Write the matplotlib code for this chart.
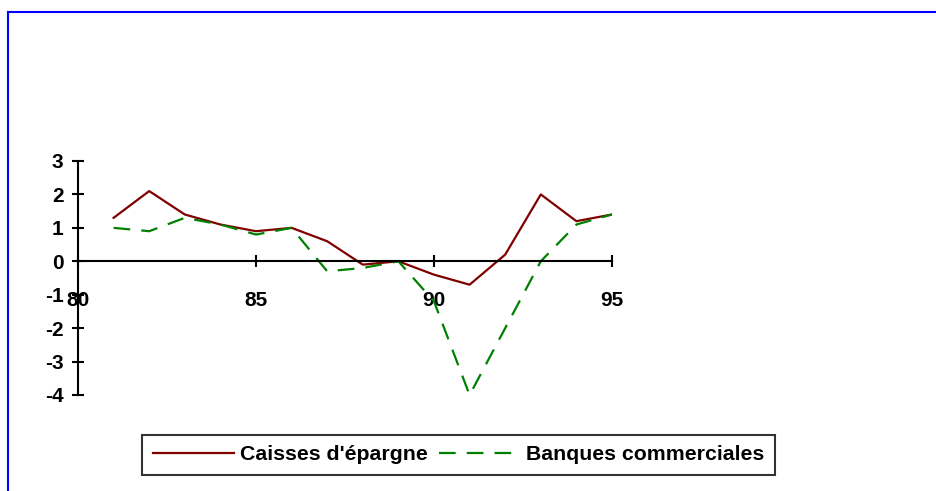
import matplotlib
matplotlib.use("Agg")
import matplotlib.pyplot as plt
from matplotlib.lines import Line2D

years = [81, 82, 83, 84, 85, 86, 87, 88, 89, 90, 91, 92, 93, 94, 95]
caisses = [1.3, 2.1, 1.4, 1.1, 0.9, 1.0, 0.6, -0.1, 0.0, -0.4, -0.7, 0.2, 2.0, 1.2, 1.4]
banques = [1.0, 0.9, 1.3, 1.1, 0.8, 1.0, -0.3, -0.2, 0.0, -1.2, -4.0, -2.0, 0.0, 1.1, 1.4]
xticks = [80, 85, 90, 95]
yticks = [3, 2, 1, 0, -1, -2, -3, -4]
labels = ["Caisses d'épargne", "Banques commerciales"]

plt.rcParams['font.family'] = ['Liberation Sans', 'DejaVu Sans']
plt.rcParams['font.weight'] = 'bold'

W, H = 937, 491
fig = plt.figure(figsize=(W / 100, H / 100), dpi=100)
ax = fig.add_axes([78 / W, 1 - 395 / H, (612 - 78) / W, (395 - 161) / H])

ax.plot(years, caisses, color='#800000', lw=1.6, label=labels[0])
ax.plot(years, banques, color='#008000', lw=1.6, dashes=(7.5, 5), label=labels[1])

ax.set_xlim(80, 95)
ax.set_ylim(-4, 3)
ax.spines['top'].set_visible(False)
ax.spines['right'].set_visible(False)
ax.spines['bottom'].set_position(('data', 0))
ax.spines['left'].set_position(('data', 80))
for s in ('bottom', 'left'):
    ax.spines[s].set_linewidth(1.5)
ax.set_xticks(xticks)
ax.set_yticks(yticks)
ax.set_yticklabels([str(v) for v in yticks])
ax.tick_params(axis='both', direction='inout', length=9, width=1.5, labelsize=15)
ax.tick_params(axis='x', pad=17)
ax.tick_params(axis='y', pad=6)
for t in ax.get_xticklabels() + ax.get_yticklabels():
    t.set_fontweight('bold')

leg = fig.legend(loc='lower left', bbox_to_anchor=(142 / W, 1 - 475 / H), ncol=2,
                 frameon=True, fancybox=False, edgecolor='black', handlelength=3.85,
                 columnspacing=0.55, handletextpad=0.25, borderpad=0.5,
                 borderaxespad=0, prop={'weight': 'bold', 'size': 15.3})
leg.get_frame().set_linewidth(1.5)

fig.add_artist(Line2D([8 / W, 1], [1 - 12 / H, 1 - 12 / H], color='blue', lw=1.5))
fig.add_artist(Line2D([8 / W, 8 / W], [0, 1 - 12 / H], color='blue', lw=1.5))

fig.savefig('out.png', dpi=100)
